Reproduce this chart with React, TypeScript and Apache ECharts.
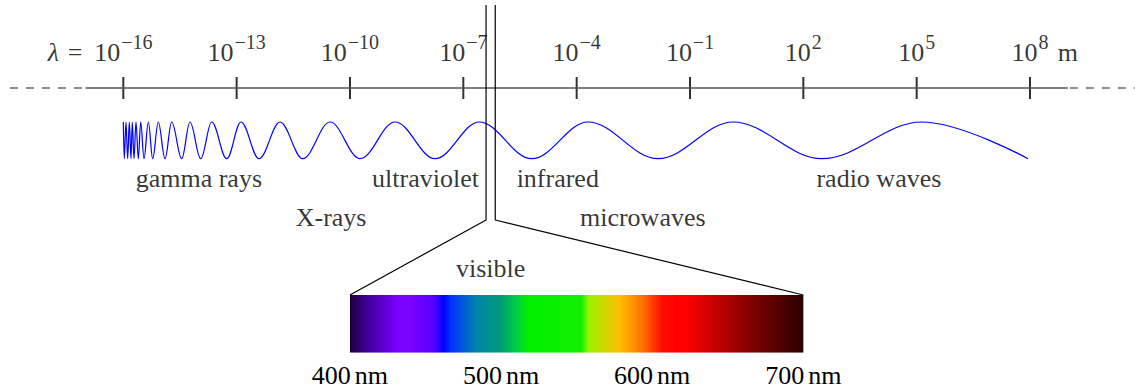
import React, { useEffect, useRef } from "react";
import * as echarts from "echarts";

// ---------- data ----------
// wavelength axis: exponents of 10 (metres)
const tickExponents = [-16, -13, -10, -7, -4, -1, 2, 5, 8];
const axisSolidLog = [-17, 9];
const axisDashLeftLog = [-19, -17];
const axisDashRightLog = [9, 11];

// spectral bands (label centre in log10 metres, label row)
const bandNames = ["gamma rays", "X-rays", "ultraviolet", "infrared", "microwaves", "radio waves"];
const bandLabelLog = [-14.0, -10.5, -8.0, -4.5, -2.25, 4.0];
const bandLabelRow = [178.7, 217.7, 178.7, 178.7, 217.7, 178.7];

// positions (log10 m) of the successive crests / troughs of the drawn wave, first one a crest
const waveExtremaLog = [
  -16.0, -15.974, -15.929, -15.884, -15.841, -15.796, -15.762, -15.717, -15.664, -15.603,
  -15.539, -15.452, -15.338, -15.222, -15.074, -14.896, -14.719, -14.454, -14.235, -13.951,
  -13.66, -13.263, -12.885, -12.408, -11.852, -11.251, -10.529, -9.735, -8.808, -7.75,
  -6.577, -5.19, -3.7, -1.847, 0.138, 2.486, 5.133, 7.946,
];

// visible range (nm)
const visibleNm = [400, 700];
const nmTickInterval = 100;
const spectrumNm = [400, 412, 431, 440, 455, 462, 467, 484, 499, 512, 518, 553, 558, 578, 593, 607, 622, 662, 700];
const spectrumColors = [
  "#1c0040", "#40009a", "#7a00ff", "#7a00ff", "#5a00ff", "#0000ff", "#0034ff", "#0084aa",
  "#009a7a", "#00d83a", "#00f000", "#10f000", "#9cf000", "#ffc000", "#ff7400", "#ff0a00",
  "#ff0000", "#8a0000", "#2a0000",
];

// ---------- layout ----------
const W = 1135;
const H = 391;
const PX_PER_DECADE = 37.78;
const TICK0_PX = 123.3;
const X_MIN = tickExponents[0] - TICK0_PX / PX_PER_DECADE;
const X_MAX = X_MIN + W / PX_PER_DECADE;
const AXIS_Y = 88;
const TICK_LABEL_Y = 52.9;
const SUP_PAD = 14;
const CREST_Y = 122;
const TROUGH_Y = 158.7;
const POINTER_TOP_Y = 5;
const POINTER_BEND_Y = 220;
const SPECTRUM_TOP = 295;
const SPECTRUM_BOTTOM = 352.7;
const SPECTRUM_SPAN_LOG = [-10, 2];
const VISIBLE_LABEL_Y = 268.2;
const LAMBDA_LOG = -17.66;
const UNIT_LOG = 9.0;

const SERIF = "Liberation Serif";
const FS = 26;
const SUP_FS = 20;

const sup = (e: number) => (e < 0 ? "\u2212" + Math.abs(e) : String(e));

export default function App() {
  const ref = useRef<HTMLDivElement>(null);

  useEffect(() => {
    if (!ref.current) return;
    const chart = echarts.init(ref.current, undefined, { renderer: "svg" });

    const toPx = (u: number) => (u - X_MIN) * PX_PER_DECADE;
    const spLeft = toPx(SPECTRUM_SPAN_LOG[0]);
    const spWidth = toPx(SPECTRUM_SPAN_LOG[1]) - spLeft;

    const logVis = visibleNm.map((nm) => Math.log10(nm * 1e-9));

    const baseText = { color: "#000", fontFamily: SERIF, fontSize: FS };
    // the tick label box grows with the superscript padding; shift its centre so "10" stays put
    const supLine = Math.max(30, SUP_FS + SUP_PAD);
    const tickLabelBoxY = TICK_LABEL_Y - (supLine / 2 - 15);

    const option: any = {
      animation: false,
      backgroundColor: "#fff",
      grid: [
        { left: 0, top: 0, width: W, height: H },
        { left: spLeft, top: SPECTRUM_TOP, width: spWidth, height: SPECTRUM_BOTTOM - SPECTRUM_TOP },
      ],
      xAxis: [
        { gridIndex: 0, type: "value", min: X_MIN, max: X_MAX, show: false },
        {
          gridIndex: 1,
          type: "value",
          min: visibleNm[0],
          max: visibleNm[1],
          interval: nmTickInterval,
          axisLine: { show: false },
          axisTick: { show: false },
          splitLine: { show: false },
          axisLabel: {
            show: true,
            showMinLabel: true,
            showMaxLabel: true,
            formatter: (v: number) => `{n|${v}}{u|nm}`,
            margin: 10,
            ...baseText,
            rich: {
              n: { ...baseText },
              u: { ...baseText, padding: [0, 0, 0, 4] },
            },
          },
        },
      ],
      yAxis: [
        { gridIndex: 0, type: "value", min: 0, max: H, inverse: true, show: false },
        { gridIndex: 1, type: "value", min: 0, max: 1, show: false },
      ],
      series: [
        {
          type: "line",
          silent: true,
          symbol: "none",
          data: axisSolidLog.map((u) => [u, AXIS_Y]),
          lineStyle: { color: "#555", width: 1.3 },
        },
        {
          type: "line",
          silent: true,
          symbol: "none",
          data: axisDashLeftLog.map((u) => [u, AXIS_Y]),
          lineStyle: { color: "#666", width: 1.3, type: [8, 8] },
        },
        {
          type: "line",
          silent: true,
          symbol: "none",
          data: axisDashRightLog.map((u) => [u, AXIS_Y]),
          lineStyle: { color: "#666", width: 1.3, type: [8, 8], dashOffset: -2 },
        },
        {
          type: "scatter",
          silent: true,
          symbol: "rect",
          symbolSize: [2, 22],
          itemStyle: { color: "#000" },
          data: tickExponents.map((e) => [e, AXIS_Y]),
        },
        {
          type: "scatter",
          silent: true,
          symbolSize: 1,
          itemStyle: { color: "transparent" },
          data: tickExponents.map((e) => [e, tickLabelBoxY]),
          label: {
            show: true,
            position: "inside",
            formatter: (p: any) => `{b|10}{s|${sup(tickExponents[p.dataIndex])}}`,
            rich: {
              b: { ...baseText, lineHeight: 30, verticalAlign: "bottom" },
              s: {
                ...baseText,
                fontSize: SUP_FS,
                lineHeight: SUP_FS,
                verticalAlign: "bottom",
                padding: [0, 0, SUP_PAD, 1],
              },
            },
          },
        },
        {
          type: "scatter",
          silent: true,
          symbolSize: 1,
          itemStyle: { color: "transparent" },
          data: [
            [LAMBDA_LOG, TICK_LABEL_Y],
            [UNIT_LOG, TICK_LABEL_Y],
          ],
          label: {
            show: true,
            position: "inside",
            formatter: (p: any) => (p.dataIndex === 0 ? "{l|\u03bb}{e|=}" : "{e|m}"),
            rich: {
              l: { ...baseText, fontStyle: "italic", width: 29, lineHeight: 30 },
              e: { ...baseText, lineHeight: 30 },
            },
          },
        },
        {
          type: "line",
          silent: true,
          symbol: "none",
          smooth: 0.3642,
          smoothMonotone: "x",
          data: waveExtremaLog.map((u, i) => [u, i % 2 === 0 ? CREST_Y : TROUGH_Y]),
          lineStyle: { color: "#0000ff", width: 1.2 },
        },
        {
          type: "scatter",
          silent: true,
          symbolSize: 1,
          itemStyle: { color: "transparent" },
          data: [
            ...bandNames.map((n, i) => ({ name: n, value: [bandLabelLog[i], bandLabelRow[i]] })),
            { name: "visible", value: [(logVis[0] + logVis[1]) / 2, VISIBLE_LABEL_Y] },
          ],
          label: { show: true, position: "inside", formatter: "{b}", ...baseText },
        },
        {
          type: "line",
          silent: true,
          symbol: "none",
          data: [
            [logVis[0], POINTER_TOP_Y],
            [logVis[0], POINTER_BEND_Y],
            [SPECTRUM_SPAN_LOG[0], SPECTRUM_TOP],
          ],
          lineStyle: { color: "#000", width: 1.2 },
        },
        {
          type: "line",
          silent: true,
          symbol: "none",
          data: [
            [logVis[1], POINTER_TOP_Y],
            [logVis[1], POINTER_BEND_Y],
            [SPECTRUM_SPAN_LOG[1], SPECTRUM_TOP],
          ],
          lineStyle: { color: "#000", width: 1.2 },
        },
        {
          type: "line",
          silent: true,
          symbol: "none",
          xAxisIndex: 1,
          yAxisIndex: 1,
          data: visibleNm.map((nm) => [nm, 1]),
          lineStyle: { width: 0 },
          areaStyle: {
            opacity: 1,
            color: new echarts.graphic.LinearGradient(
              0,
              0,
              1,
              0,
              spectrumNm.map((nm, i) => ({
                offset: (nm - visibleNm[0]) / (visibleNm[1] - visibleNm[0]),
                color: spectrumColors[i],
              }))
            ),
          },
        },
      ],
    };

    chart.setOption(option);
    return () => chart.dispose();
  }, []);

  return (
    <div
      ref={ref}
      style={{ position: "absolute", left: 0, top: 0, width: W, height: H, background: "#fff" }}
    />
  );
}
